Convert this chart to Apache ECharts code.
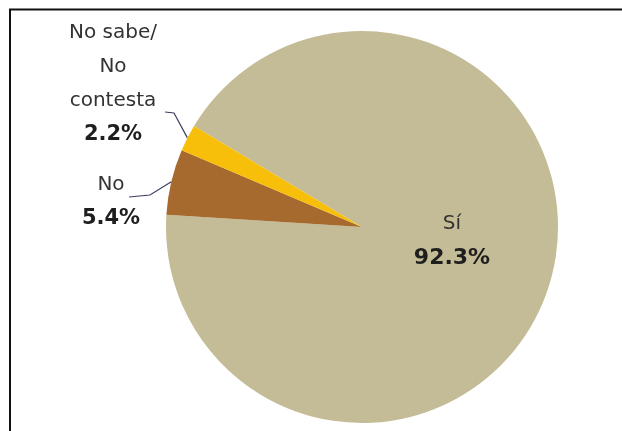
<!DOCTYPE html>
<html>
<head>
<meta charset="utf-8">
<script src="https://cdn.jsdelivr.net/npm/echarts@6/dist/echarts.min.js"></script>
<style>
html,body{margin:0;padding:0;background:#fff;}
#chart{width:622px;height:431px;}
</style>
</head>
<body>
<div id="chart"></div>
<script>
var categories = ['Sí', 'No', 'No sabe/\nNo\ncontesta'];
var values = [92.3, 5.4, 2.2];
var colors = ['#C4BC96', '#A66A2E', '#F7BF0A'];

var chart = echarts.init(document.getElementById('chart'), null, {renderer: 'canvas'});

var labelPos = [
  {x: 452, y: 241},
  {x: 111, y: 202},
  {x: 113, y: 84}
];

var option = {
  animation: false,
  backgroundColor: '#fff',
  graphic: [{
    type: 'rect',
    shape: {x: 10, y: 9.5, width: 700, height: 500},
    style: {fill: 'none', stroke: '#111', lineWidth: 2},
    silent: true
  }],
  series: [{
    type: 'pie',
    center: [362, 227],
    radius: [0, 196],
    startAngle: 149,
    clockwise: true,
    avoidLabelOverlap: false,
    itemStyle: {borderWidth: 0},
    label: {
      show: true,
      position: 'outside',
      formatter: function (p) {
        return '{n|' + p.name + '}\n{v|' + p.value.toFixed(1) + '%}';
      },
      rich: {
        n: {fontFamily: 'DejaVu Sans', fontSize: 20, color: '#333', lineHeight: 34, align: 'center'},
        v: {fontFamily: 'DejaVu Sans', fontSize: 21, fontWeight: 'bold', color: '#1e1e1e', lineHeight: 34, align: 'center'}
      }
    },
    labelLine: {
      show: true,
      lineStyle: {color: '#3c4060', width: 1.2}
    },
    labelLayout: function (params) {
      var i = params.dataIndex;
      var res = {x: labelPos[i].x, y: labelPos[i].y, align: 'center', verticalAlign: 'middle'};
      var lp = params.labelLinePoints;
      if (lp && lp.length) {
        var p0 = lp[0];
        if (i === 2) {
          res.labelLinePoints = [p0, [174, 113], [165, 112]];
        } else if (i === 1) {
          res.labelLinePoints = [p0, [150, 195], [129, 197]];
        }
      }
      return res;
    },
    data: categories.map(function (c, i) {
      var d = {name: c, value: values[i], itemStyle: {color: colors[i]}};
      if (i === 0) {
        d.labelLine = {show: false};
        d.label = {rich: {v: {fontSize: 22}}};
      }
      return d;
    })
  }]
};
chart.setOption(option);
</script>
</body>
</html>
